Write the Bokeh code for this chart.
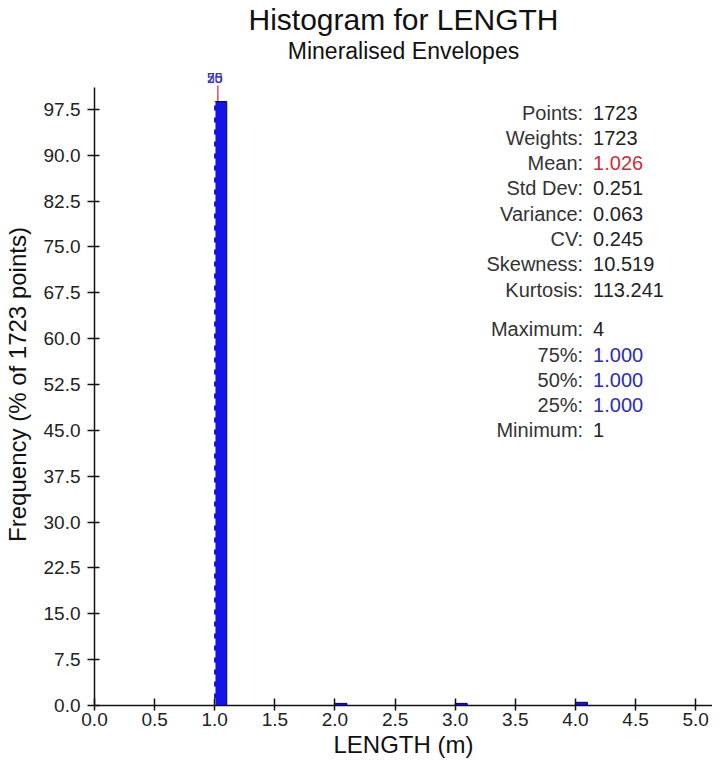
import numpy as np
from bokeh.plotting import figure
from bokeh.models import Range1d, Title, NumeralTickFormatter, FixedTicker, ColumnDataSource
from bokeh.core.properties import value
from bokeh.embed import file_html
from bokeh.resources import INLINE

# ---------------- data ----------------
bin_left = [1.0, 2.0, 3.0, 4.0]
bin_width = 0.1
counts = [1702, 6, 6, 9]
n_points = 1723
mean_value = 1.026
quartile_names = ["75", "50", "25"]
quartile_values = [1.0, 1.0, 1.0]
median_value = 1.0
stat_labels = ["Points:", "Weights:", "Mean:", "Std Dev:", "Variance:", "CV:",
               "Skewness:", "Kurtosis:", "Maximum:", "75%:", "50%:", "25%:", "Minimum:"]
stat_values = ["1723", "1723", "1.026", "0.251", "0.063", "0.245",
               "10.519", "113.241", "4", "1.000", "1.000", "1.000", "1"]
x_ticks = [0.0, 0.5, 1.0, 1.5, 2.0, 2.5, 3.0, 3.5, 4.0, 4.5, 5.0]
y_ticks = [0.0, 7.5, 15.0, 22.5, 30.0, 37.5, 45.0, 52.5, 60.0, 67.5, 75.0, 82.5, 90.0, 97.5]

percent = [c / n_points * 100.0 for c in counts]

# ---------------- layout ----------------
FONT = "Liberation Sans"
W, H = 712, 769
BL, BR, BT, BB = 91, 0, 63, 64
X_END, Y_END = 5.14, 105.0

p = figure(width=W, height=H, output_backend="svg", toolbar_location=None,
           x_range=Range1d(0, X_END), y_range=Range1d(0, Y_END),
           min_border_left=BL, min_border_right=BR, min_border_top=BT, min_border_bottom=BB,
           background_fill_color="white", border_fill_color="white")
p.outline_line_color = None
p.xgrid.visible = False
p.ygrid.visible = False

p.add_layout(Title(text="Mineralised Envelopes", align="center", text_font=FONT,
                   text_font_size="23px", text_font_style="normal", text_color="#111111",
                   standoff=0), "above")
p.add_layout(Title(text="Histogram for LENGTH", align="center", text_font=FONT,
                   text_font_size="30px", text_font_style="normal", text_color="#111111",
                   standoff=0), "above")

# frame pixel helpers (frame-relative) for annotation text positions
fw = W - BL - BR
fh = H - BT - BB
page_x0 = 8 + BL
page_y1 = 8 + BT + fh


def dx(page_x):
    return (page_x - page_x0) / fw * X_END


def dy(page_y):
    return (page_y1 - page_y) / fh * Y_END


# mean line (behind bars)
p.segment(x0=[mean_value], y0=[0], x1=[mean_value], y1=[dy(93)],
          line_color="#c8283c", line_width=1.2)

# histogram bars
src = ColumnDataSource(dict(left=bin_left, right=[b + bin_width for b in bin_left],
                            top=percent, bottom=[0] * len(bin_left)))
p.quad(left="left", right="right", top="top", bottom="bottom", source=src,
       fill_color="#1414e6", line_color="#000088", line_width=1)

# median dashed line
p.segment(x0=[median_value], y0=[0], x1=[median_value], y1=[percent[0]],
          line_color="white", line_width=1.5, line_dash="7 5")

# quartile labels (overlapping)
p.text(x=quartile_values, y=[dy(85)] * 3, text=quartile_names,
       text_align="center", text_baseline="middle", text_font=value(FONT),
       text_font_size="14px", text_color="#3a3ab4")

# stats block
row_y = []
for i in range(len(stat_labels)):
    if i < 8:
        row_y.append(120 + i * 25.3)
    else:
        row_y.append(336.7 + (i - 8) * 25.3)
val_colors = []
for lab in stat_labels:
    if lab == "Mean:":
        val_colors.append("#d02a3a")
    elif lab in ("75%:", "50%:", "25%:"):
        val_colors.append("#2c2cb0")
    else:
        val_colors.append("#222222")

p.text(x=[dx(590)] * len(stat_labels), y=[dy(v) for v in row_y], text=stat_labels,
       text_align="right", text_baseline="middle", text_font=value(FONT),
       text_font_size="20px", text_color="#333333")
p.text(x=[dx(600)] * len(stat_values), y=[dy(v) for v in row_y], text=stat_values,
       text_align="left", text_baseline="middle", text_font=value(FONT),
       text_font_size="20px", text_color=val_colors)

# axes
p.xaxis.ticker = FixedTicker(ticks=x_ticks)
p.yaxis.ticker = FixedTicker(ticks=y_ticks)
p.xaxis.formatter = NumeralTickFormatter(format="0.0")
p.yaxis.formatter = NumeralTickFormatter(format="0.0")
p.yaxis.bounds = (0, 101)
for ax in (p.xaxis, p.yaxis):
    ax.axis_line_color = "#111111"
    ax.axis_line_width = 1.5
    ax.major_tick_line_color = "#111111"
    ax.major_tick_line_width = 1.5
    ax.minor_tick_line_color = None
    ax.major_label_text_font = FONT
    ax.major_label_text_font_size = "19px"
    ax.major_label_text_color = "#222222"
    ax.axis_label_text_font = FONT
    ax.axis_label_text_font_style = "normal"
    ax.axis_label_text_color = "#111111"
    ax.axis_label_text_font_size = "24px"

p.xaxis.axis_label = "LENGTH (m)"
p.xaxis.major_tick_in = 7
p.xaxis.major_tick_out = 5
p.xaxis.major_label_standoff = 2
p.xaxis.axis_label_standoff = 2

p.yaxis.axis_label = "Frequency (% of 1723 points)"
p.yaxis.major_tick_in = 5
p.yaxis.major_tick_out = 7
p.yaxis.major_label_standoff = 7
p.yaxis.axis_label_standoff = 10

open("out.html", "w").write(file_html(p, INLINE))
